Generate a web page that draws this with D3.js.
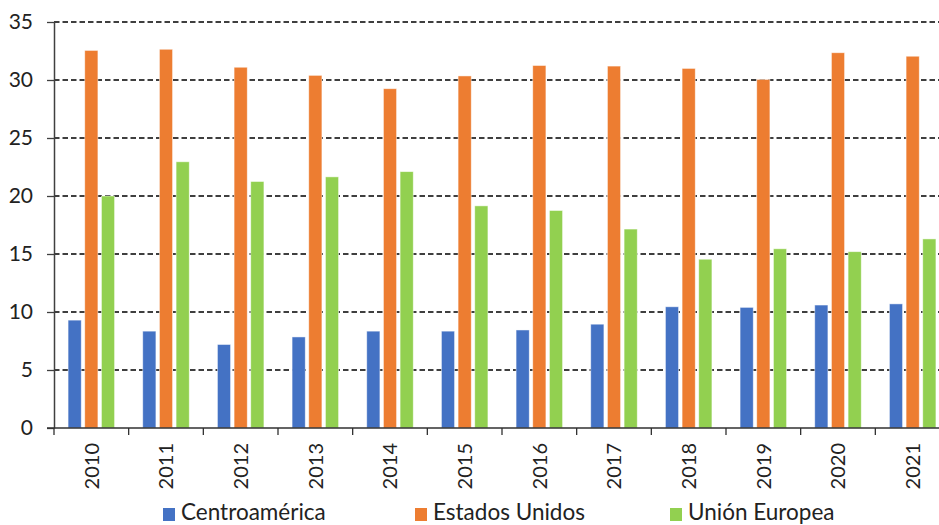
<!DOCTYPE html>
<html><head><meta charset="utf-8">
<script src="https://cdn.jsdelivr.net/npm/d3@7"></script>
<style>
html,body{margin:0;padding:0;background:#fff;}
svg{display:block;}
text{font-family:Lato,"Open Sans",sans-serif;fill:#222;}
</style></head>
<body>
<svg id="chart" width="939" height="525"></svg>
<script>
const years = ["2010","2011","2012","2013","2014","2015","2016","2017","2018","2019","2020","2021"];
const seriesNames = ["Centroamérica","Estados Unidos","Unión Europea"];
const centroamerica = [9.3,8.35,7.2,7.85,8.35,8.35,8.45,8.95,10.45,10.4,10.6,10.7];
const estadosUnidos = [32.55,32.65,31.1,30.4,29.25,30.35,31.25,31.2,31.0,30.05,32.35,32.05];
const unionEuropea = [20.0,22.95,21.25,21.65,22.1,19.15,18.75,17.15,14.55,15.45,15.2,16.3];
const colors = ["#4472C4","#ED7D31","#92D050"];
const yTicks = [0,5,10,15,20,25,30,35];

const seriesValues = [centroamerica, estadosUnidos, unionEuropea];
const svg = d3.select("#chart");
const mLeft = 54, mRight = 950, mTop = 22, mBottom = 428;

const y = d3.scaleLinear().domain([0,35]).range([mBottom, mTop]);
const x0 = d3.scaleBand().domain(years).range([mLeft, mRight]).paddingInner(0.377).paddingOuter(0.1885);
const x1 = d3.scaleBand().domain(seriesNames).range([0, x0.bandwidth()]).paddingInner(0.21);

// gridlines
svg.append("g").selectAll("line").data(yTicks.filter(t=>t>0)).join("line")
  .attr("x1", mLeft).attr("x2", 939)
  .attr("y1", d=>y(d)).attr("y2", d=>y(d))
  .attr("stroke","#000").attr("stroke-width",1.3).attr("stroke-dasharray","5.5,3");

// bars
const groups = svg.append("g").selectAll("g").data(years).join("g")
  .attr("transform", d=>`translate(${x0(d)},0)`);
groups.selectAll("rect").data((d,i)=>seriesNames.map((s,j)=>({s, v: seriesValues[j][i], c: colors[j]}))).join("rect")
  .attr("x", d=>x1(d.s)).attr("width", x1.bandwidth())
  .attr("y", d=>y(d.v)).attr("height", d=>mBottom - y(d.v))
  .attr("fill", d=>d.c).attr("stroke","#fff").attr("stroke-opacity",0.6).attr("stroke-width",0.8);

// y axis
const yAxis = d3.axisLeft(y).tickValues(yTicks).tickSize(7).tickPadding(14).tickSizeOuter(0);
const gy = svg.append("g").attr("transform",`translate(${mLeft},0)`).call(yAxis);
gy.select(".domain").attr("stroke","#404040").attr("stroke-width",1.5);
gy.selectAll(".tick line").attr("stroke","#404040").attr("stroke-width",1.3);
gy.selectAll(".tick text").attr("font-size",21).attr("font-family","Lato, 'Open Sans', sans-serif").attr("fill","#222");

// x axis
const xTickScale = d3.scalePoint().domain(d3.range(years.length+1)).range([mLeft,mRight]);
const gx = svg.append("g").attr("transform",`translate(0,${mBottom})`);
gx.append("line").attr("x1",mLeft-7).attr("x2",939).attr("y1",0).attr("y2",0).attr("stroke","#303030").attr("stroke-width",1.5);
gx.selectAll("line.tk").data(d3.range(years.length+1)).join("line").attr("class","tk")
  .attr("x1",d=>xTickScale(d)).attr("x2",d=>xTickScale(d)).attr("y1",0).attr("y2",7)
  .attr("stroke","#303030").attr("stroke-width",1.3);
gx.selectAll("text").data(years).join("text")
  .attr("transform", d=>`translate(${x0(d)+x0.bandwidth()/2},15) rotate(-90)`)
  .attr("text-anchor","end").attr("dy","0.36em")
  .attr("font-size",20).text(d=>d);

// legend
const legendX = [163, 415, 670];
const lg = svg.append("g");
seriesNames.forEach((s,i)=>{
  lg.append("rect").attr("x",legendX[i]).attr("y",508).attr("width",12).attr("height",13).attr("fill",colors[i]);
  lg.append("text").attr("x",legendX[i]+18).attr("y",520).attr("font-size",22.5).text(s);
});
</script>
</body></html>
